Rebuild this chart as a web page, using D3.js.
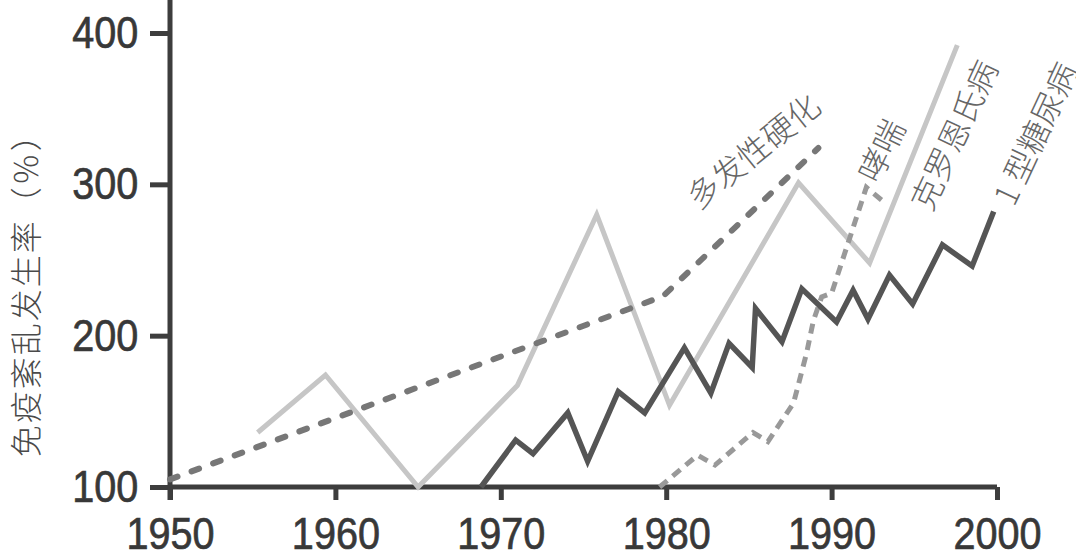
<!DOCTYPE html>
<html>
<head>
<meta charset="utf-8">
<script src="https://cdn.jsdelivr.net/npm/d3@7"></script>
<style>
  body { margin: 0; background: #fff; }
  .tick text { font-family: "Liberation Sans", Arial, sans-serif; font-size: 45px; }
  .lbl { font-family: "Noto Sans CJK SC", sans-serif; font-weight: 300; fill: #666; font-size: 32px; }
</style>
</head>
<body>
<svg width="1076" height="553"></svg>
<script>
// years / values
var t1dYears = [1968.8, 1970.9, 1971.95, 1974.05, 1975.25, 1977.1, 1978.7, 1981.1, 1982.7, 1983.8, 1985.2, 1985.4, 1987.0, 1988.2, 1990.3, 1991.3, 1992.2, 1993.5, 1994.9, 1996.7, 1998.5, 1999.8];
var t1dVals  = [100, 131, 122, 149, 117, 163, 149, 192, 162, 195, 179, 218, 196, 231, 209, 230, 211, 240, 221, 260, 246, 282];

var crohnYears = [1955.3, 1959.4, 1965.0, 1971.0, 1975.8, 1980.2, 1988.0, 1992.3, 1997.6];
var crohnVals  = [136, 174, 100, 167, 280, 154, 301, 248, 392];

var msYears = [1950, 1979.8, 1989.2];
var msVals  = [105, 226, 324];

var asthmaYears = [1979.6, 1981.9, 1982.95, 1985.25, 1986.15, 1987.7, 1988.5, 1988.9, 1989.4, 1990.0, 1992.1, 1993.2];
var asthmaVals  = [100, 121, 114.5, 136, 130, 155.5, 189, 210, 225.6, 228, 298, 288];

var xTicks = [1950, 1960, 1970, 1980, 1990, 2000];
var yTicks = [100, 200, 300, 400];

var svg = d3.select("svg");

var x = d3.scaleLinear().domain([1950, 2000]).range([170, 997]),
    y = d3.scaleLinear().domain([100, 400]).range([487, 33]);

var axisColor = "#3d3d3d";
var squeeze = 0.88;   // numbers are set in a condensed face

// axes
var gx = svg.append("g")
            .attr("transform", `translate(0,${y(100)})`)
            .call(d3.axisBottom(x).tickValues(xTicks).tickFormat(d3.format("d")).tickSize(13).tickPadding(17));
var gy = svg.append("g")
            .attr("transform", `translate(${x(1950)},0)`)
            .call(d3.axisLeft(y).tickValues(yTicks).tickSize(20).tickPadding(16));

[gx, gy].forEach(g => {
  g.select(".domain").remove();
  g.selectAll(".tick line").attr("stroke", axisColor).attr("stroke-width", 5);
  g.selectAll(".tick text")
   .attr("fill", "#383838")
   .attr("stroke", "#383838")
   .attr("stroke-width", 0.7)
   .attr("transform", `scale(${squeeze},1)`);
});
gx.selectAll(".tick text").attr("dy", "0.71em");

svg.append("line")
   .attr("x1", x(1950)).attr("x2", x(2000))
   .attr("y1", y(100)).attr("y2", y(100))
   .attr("stroke", axisColor).attr("stroke-width", 5);
svg.append("line")
   .attr("x1", x(1950)).attr("x2", x(1950))
   .attr("y1", 0).attr("y2", y(100) + 13)
   .attr("stroke", axisColor).attr("stroke-width", 5);

var line = d3.line()
             .x(d => x(d[0]))
             .y(d => y(d[1]));

function pts(xs, vs) { return xs.map((v, i) => [v, vs[i]]); }

svg.append("path")
   .attr("d", line(pts(crohnYears, crohnVals)))
   .attr("fill", "none").attr("stroke", "#c6c6c6").attr("stroke-width", 5)
   .attr("stroke-linejoin", "miter");

svg.append("path")
   .attr("d", line(pts(msYears, msVals)))
   .attr("fill", "none").attr("stroke", "#777").attr("stroke-width", 6)
   .attr("stroke-linecap", "round")
   .attr("stroke-dasharray", "8,15");

svg.append("path")
   .attr("d", line(pts(asthmaYears, asthmaVals)))
   .attr("fill", "none").attr("stroke", "#999").attr("stroke-width", 5)
   .attr("stroke-dasharray", "10,7");

svg.append("path")
   .attr("d", line(pts(t1dYears, t1dVals)))
   .attr("fill", "none").attr("stroke", "#555").attr("stroke-width", 5.5)
   .attr("stroke-linejoin", "miter");

// labels
var labels = [
  {text: "多发性硬化", x: 1985.2, v: 323, a: -39},
  {text: "哮喘", x: 1992.9, v: 323, a: -64},
  {text: "克罗恩氏病", x: 1997.3, v: 333, a: -65},
  {text: "1 型糖尿病", x: 2002.2, v: 334, a: -65}
];
svg.selectAll("text.lbl")
   .data(labels)
   .enter().append("text")
   .attr("class", "lbl")
   .attr("text-anchor", "middle")
   .attr("dominant-baseline", "central")
   .attr("transform", d => `translate(${x(d.x)},${y(d.v)}) rotate(${d.a})`)
   .text(d => d.text);

svg.append("text")
   .attr("class", "lbl")
   .style("fill", "#4a4a4a")
   .style("letter-spacing", "2px")
   .attr("text-anchor", "middle")
   .attr("dominant-baseline", "central")
   .attr("transform", `translate(24,${y(232)}) rotate(-90)`)
   .text("免疫紊乱发生率（％）");
</script>
</body>
</html>
